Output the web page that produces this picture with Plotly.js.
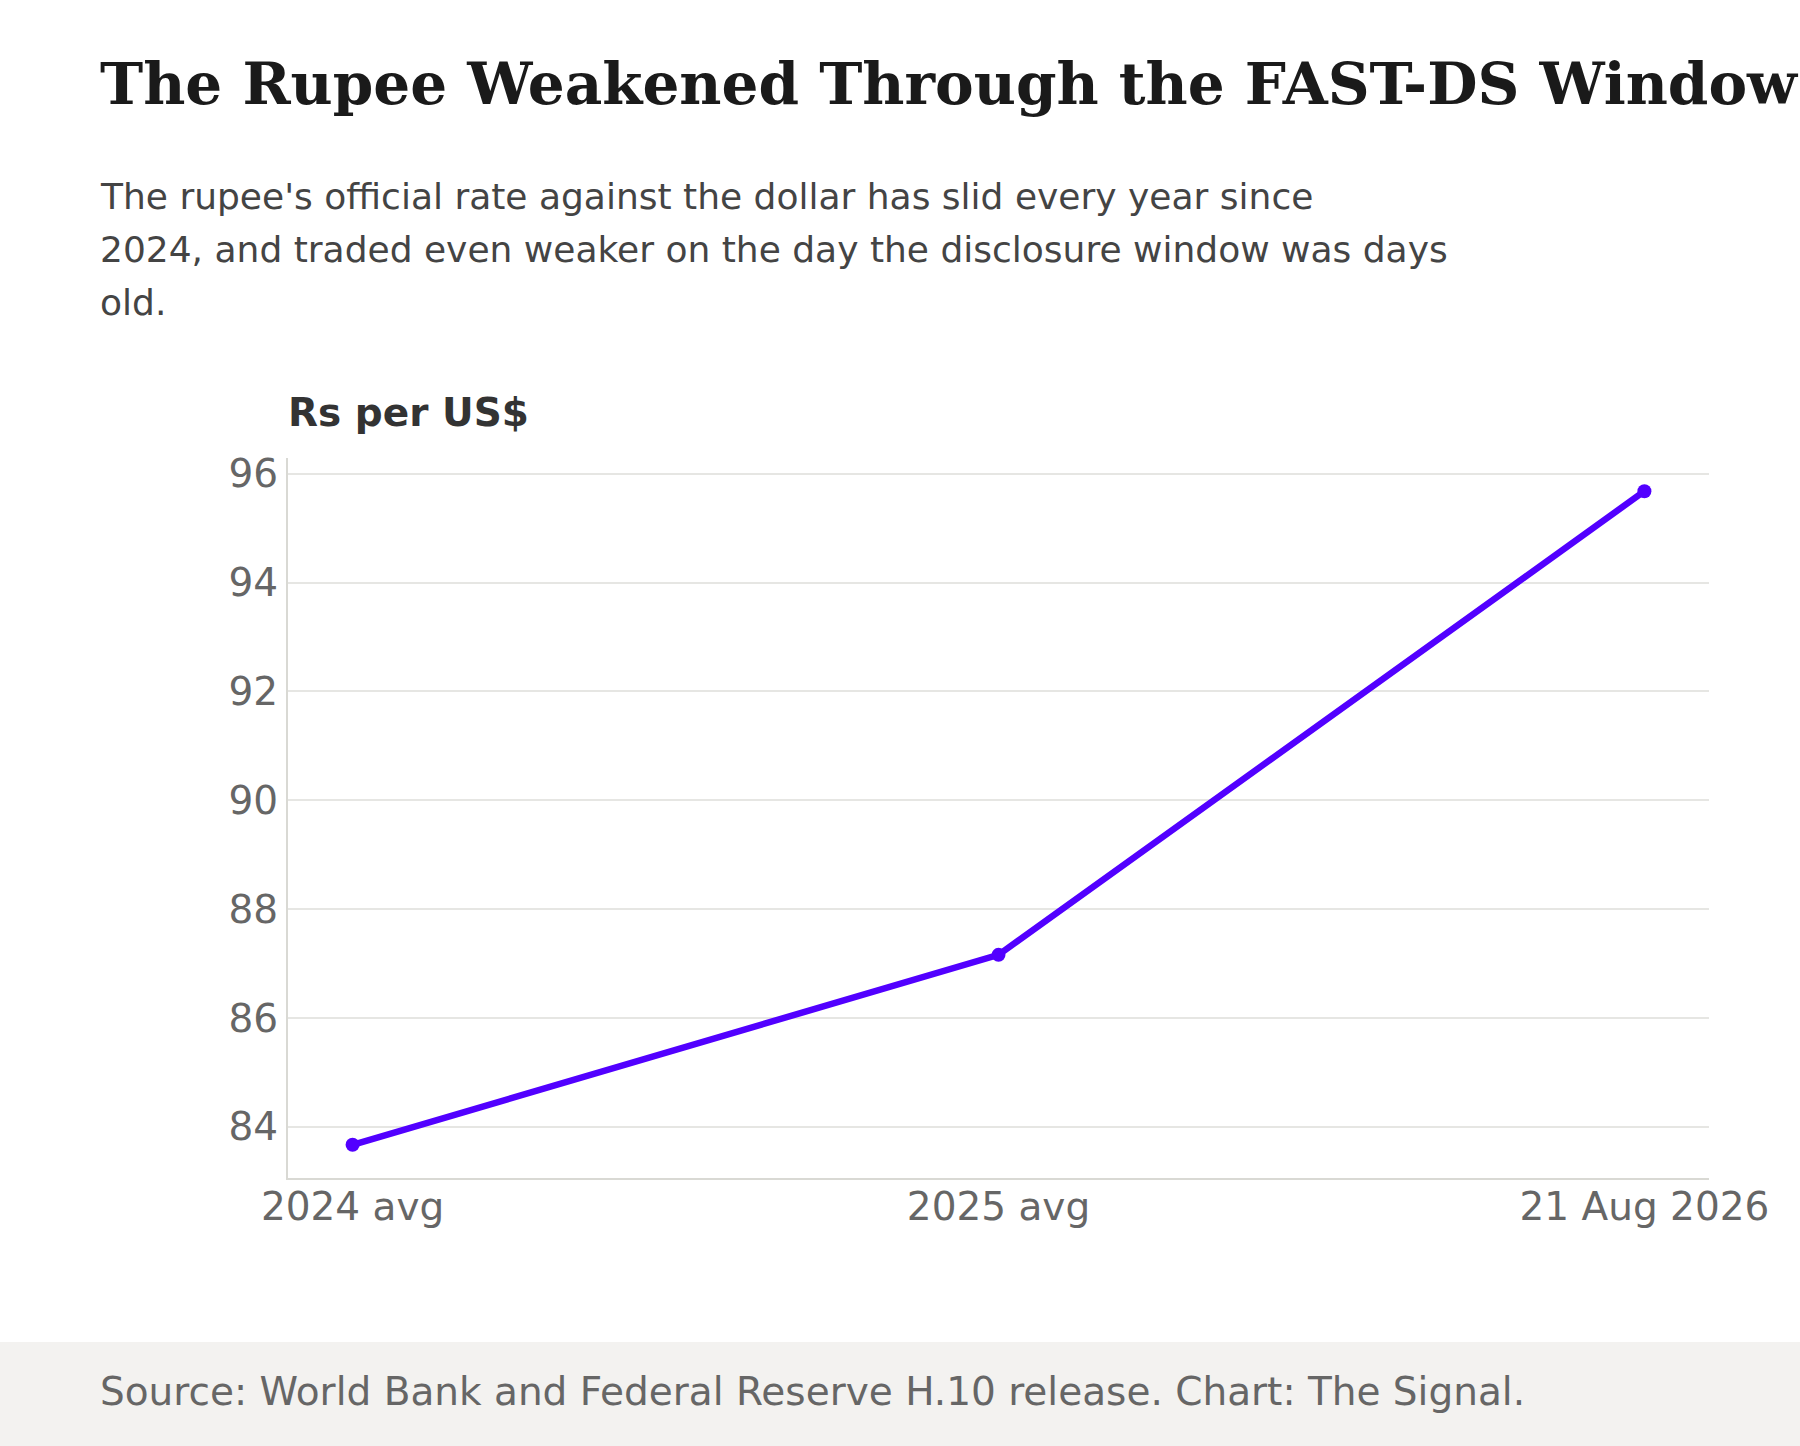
<!DOCTYPE html>
<html>
<head>
<meta charset="utf-8">
<script src="https://cdn.plot.ly/plotly-3.0.1.min.js"></script>
<style>
  html, body { margin: 0; padding: 0; background: #ffffff; }
  #chart { width: 1800px; height: 1446px; }
</style>
</head>
<body>
<div id="chart"></div>
<script>
// ── data ──────────────────────────────────────────────
const PERIODS = ['2024 avg', '2025 avg', '21 Aug 2026'];
const RS_PER_USD = [83.67, 87.16, 95.68];
const Y_TICKS = [84, 86, 88, 90, 92, 94, 96];

const TITLE = 'The Rupee Weakened Through the FAST-DS Window';
const SUBTITLE_LINES = [
  "The rupee's official rate against the dollar has slid every year since",
  '2024, and traded even weaker on the day the disclosure window was days',
  'old.'
];
const Y_LABEL = 'Rs per US$';
const SOURCE = 'Source: World Bank and Federal Reserve H.10 release. Chart: The Signal.';

// ── geometry (page pixels) ───────────────────────────
const W = 1800, H = 1446;
const M = { l: 288, r: 91, t: 458, b: 268 };
const plotW = W - M.l - M.r;
const plotH = H - M.t - M.b;
// page pixel -> paper coords
const px = x => (x - M.l) / plotW;
const py = y => (H - M.b - y) / plotH;

const SANS = 'DejaVu Sans, sans-serif';
const SERIF = 'DejaVu Serif, serif';
const LINE = '#5200ff';

const trace = {
  type: 'scatter', mode: 'lines+markers',
  x: PERIODS,
  y: RS_PER_USD,
  line: { color: LINE, width: 6.5 },
  marker: { color: LINE, size: 14 },
  hoverinfo: 'skip',
  cliponaxis: false,
};

const note = (text, x, y, size, color, extra) => Object.assign({
  text, xref: 'paper', yref: 'paper', x: px(x), y: py(y),
  xanchor: 'left', yanchor: 'middle', showarrow: false, align: 'left',
  font: { family: SANS, size, color },
}, extra || {});

const annotations = [
  note('<b>' + TITLE + '</b>', 98, 84, 58, '#1a1a1a', { font: { family: SERIF, size: 58, color: '#1a1a1a' } }),
  ...SUBTITLE_LINES.map((t, i) => note(t, 98, 197 + i * 52.5, 36, '#444444')),
  note('<b>' + Y_LABEL + '</b>', 286, 412, 39, '#333333'),
  note(SOURCE, 98, 1391, 39, '#666666'),
];

const layout = {
  width: W, height: H,
  margin: M,
  paper_bgcolor: '#ffffff',
  plot_bgcolor: '#ffffff',
  showlegend: false,
  font: { family: SANS, color: '#666666' },
  xaxis: {
    type: 'category',
    range: [-0.1, 2.1],
    showgrid: false, zeroline: false,
    showline: true, linecolor: '#d9d9d4', linewidth: 2,
    ticks: '', ticklabelstandoff: -7,
    tickfont: { family: SANS, size: 39, color: '#666666' },
  },
  yaxis: {
    range: [83.06, 96.29],
    tickvals: Y_TICKS,
    showgrid: true, gridcolor: '#e6e6e3', gridwidth: 2,
    zeroline: false,
    showline: true, linecolor: '#d9d9d4', linewidth: 2,
    ticks: '', tickfont: { family: SANS, size: 39, color: '#666666' },
  },
  shapes: [{
    type: 'rect', xref: 'paper', yref: 'paper', layer: 'below',
    x0: px(0), x1: px(W), y0: py(H), y1: py(1342),
    fillcolor: '#f3f2f0', line: { width: 0 },
  }],
  annotations,
};

Plotly.newPlot('chart', [trace], layout, { displayModeBar: false, staticPlot: true });
</script>
</body>
</html>
